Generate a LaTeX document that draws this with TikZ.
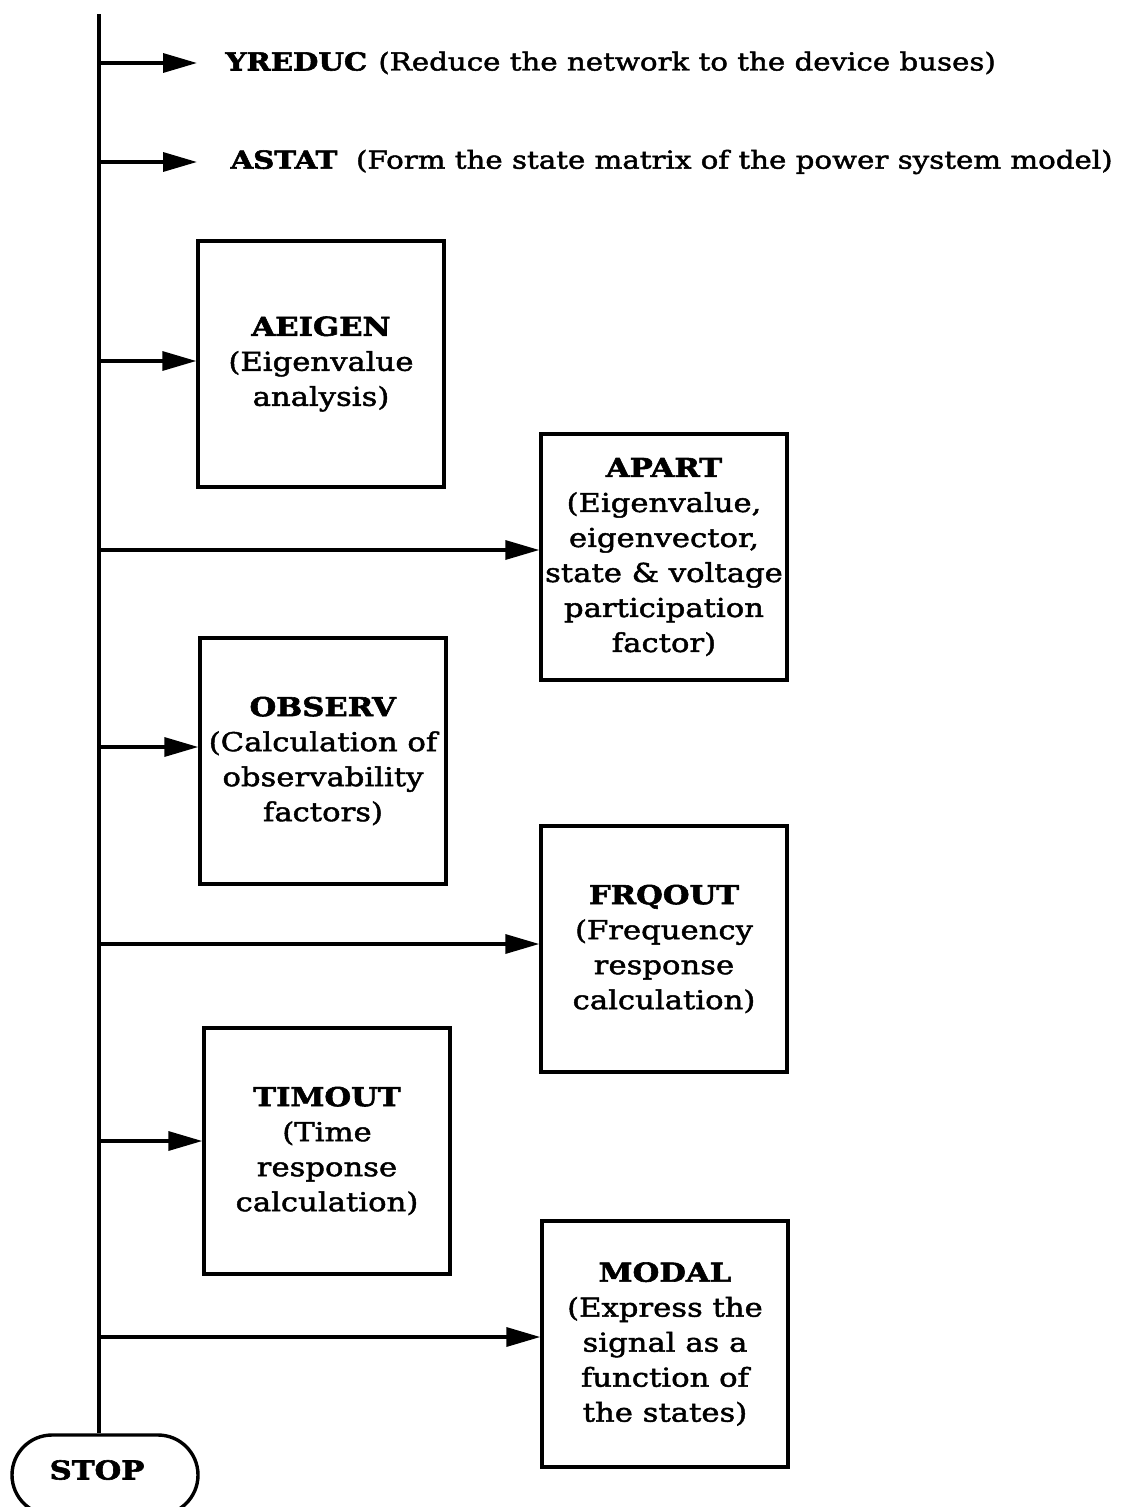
\documentclass[tikz,border=0pt]{standalone}
\usepackage{fontspec}
\setmainfont{DejaVu Serif}[FakeStretch=1.18,
  UprightFeatures={FakeBold=1.8},
  BoldFeatures={FakeBold=2.2}]
\usetikzlibrary{arrows.meta,shapes.misc}
\begin{document}
\begin{tikzpicture}[x=1pt,y=-1pt,
  font=\fontsize{26}{35}\selectfont,
  trunk/.style={line width=4.4pt},
  feed/.style={line width=3.4pt,-{Triangle[length=34pt,width=19pt]}},
  routine/.style={draw,line width=3.4pt,minimum width=246pt,minimum height=246pt,
    align=center,inner sep=2pt},
  terminal/.style={draw,line width=3.4pt,rounded rectangle,minimum width=186pt,
    minimum height=80pt,inner sep=0pt},
  oneline/.style={anchor=west,font=\fontsize{24.8}{30}\selectfont}]
\useasboundingbox (0,0) rectangle (1135,1507);

% one-line routines at the top
\node[oneline] (yreduc) at (222,63) {\textbf{YREDUC}\hspace{0.45em}(Reduce the network to the device buses)};
\node[oneline] (astat) at (227,162) {\textbf{ASTAT}\ \ (Form the state matrix of the power system model)};

% routine boxes
\node[routine] (aeigen) at (321,364) {\textbf{AEIGEN}\\(Eigenvalue\\analysis)};
\node[routine] (apart) at (664,557) {\textbf{APART}\\(Eigenvalue,\\eigenvector,\\state \& voltage\\participation\\factor)};
\node[routine] (observ) at (323,761) {\textbf{OBSERV}\\(Calculation of\\observability\\factors)};
\node[routine] (frqout) at (664,949) {\textbf{FRQOUT}\\(Frequency\\response\\calculation)};
\node[routine] (timout) at (327,1151) {\textbf{TIMOUT}\\(Time\\response\\calculation)};
\node[routine] (modal) at (665,1344) {\textbf{MODAL}\\(Express the\\signal as a\\function of\\the states)};

\node[terminal] (stop) at (105,1475) {};
\node (stoptext) at (97,1470) {\textbf{STOP}};

% branch points on the main line
\coordinate (top) at (99,14);
\coordinate (b1) at (99,63);
\coordinate (b2) at (99,162);
\coordinate (b3) at (99,361);
\coordinate (b4) at (99,550);
\coordinate (b5) at (99,747);
\coordinate (b6) at (99,944);
\coordinate (b7) at (99,1141);
\coordinate (b8) at (99,1337);

\draw[trunk] (top) -- (top |- stop.north);

\draw[feed] (b1) -- ([xshift=-25pt]yreduc.west);
\draw[feed] (b2) -- ([xshift=-30pt]astat.west);
\draw[feed] (b3) -- (b3 -| aeigen.west);
\draw[feed] (b4) -- (b4 -| apart.west);
\draw[feed] (b5) -- (b5 -| observ.west);
\draw[feed] (b6) -- (b6 -| frqout.west);
\draw[feed] (b7) -- (b7 -| timout.west);
\draw[feed] (b8) -- (b8 -| modal.west);
\end{tikzpicture}
\end{document}
